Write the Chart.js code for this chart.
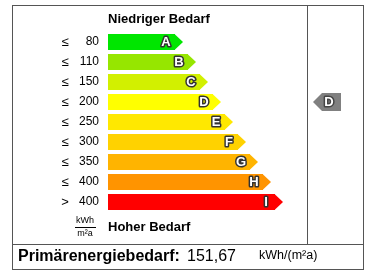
<!DOCTYPE html>
<html>
<head>
<meta charset="utf-8">
<script src="https://cdn.jsdelivr.net/npm/chart.js@4"></script>
<style>
  html, body { margin: 0; padding: 0; background: #fff; }
  #wrap { width: 380px; height: 280px; }
</style>
</head>
<body>
<div id="wrap"><canvas id="label" width="380" height="280"></canvas></div>
<script>
const classes = ['A', 'B', 'C', 'D', 'E', 'F', 'G', 'H', 'I'];
const relations = ['≤', '≤', '≤', '≤', '≤', '≤', '≤', '≤', '>'];
const limits = [80, 110, 150, 200, 250, 300, 350, 400, 400];
const barLengths = [67, 80, 92, 105, 117, 130, 142, 155, 167];
const barColors = ['#00e600', '#96e600', '#d2f000', '#ffff00', '#ffe800', '#ffd200', '#ffb400', '#ff9400', '#ff0000'];
const currentClass = 'D';
const demandValue = '151,67';

const FONT = '"Liberation Sans", Arial, sans-serif';

function outlinedText(ctx, txt, x, y, stroke) {
    ctx.save();
    ctx.font = 'bold 13px ' + FONT;
    ctx.textAlign = 'center';
    ctx.textBaseline = 'middle';
    ctx.lineJoin = 'round';
    ctx.lineWidth = 3;
    ctx.strokeStyle = stroke;
    ctx.strokeText(txt, x, y);
    ctx.fillStyle = '#fff';
    ctx.fillText(txt, x, y);
    ctx.restore();
}

const labelPlugin = {
    id: 'energyLabel',
    beforeDraw(chart) {
        const ctx = chart.ctx;
        ctx.save();
        ctx.fillStyle = '#fff';
        ctx.fillRect(0, 0, chart.width, chart.height);
        ctx.restore();
    },
    afterDatasetsDraw(chart) {
        const ctx = chart.ctx;
        const meta = chart.getDatasetMeta(0);
        const yScale = chart.scales.y;
        const area = chart.chartArea;

        // arrow heads + class letters
        meta.data.forEach((bar, i) => {
            const h = bar.height;
            ctx.save();
            ctx.fillStyle = barColors[i];
            ctx.beginPath();
            ctx.moveTo(bar.x - 0.5, bar.y - h / 2);
            ctx.lineTo(bar.x + 8, bar.y);
            ctx.lineTo(bar.x - 0.5, bar.y + h / 2);
            ctx.closePath();
            ctx.fill();
            ctx.restore();
            outlinedText(ctx, classes[i], bar.x - 9, bar.y + 0.5, '#333');
        });

        // relation signs in front of the tick labels
        ctx.save();
        ctx.font = '13px ' + FONT;
        ctx.fillStyle = '#000';
        ctx.textAlign = 'center';
        ctx.textBaseline = 'middle';
        relations.forEach((r, i) => {
            ctx.fillText(r, 65, yScale.getPixelForTick(i));
        });

        // headings
        ctx.font = 'bold 13px ' + FONT;
        ctx.textAlign = 'left';
        ctx.fillText('Niedriger Bedarf', area.left, area.top - 13);
        ctx.fillText('Hoher Bedarf', area.left, area.bottom + 15);

        // unit fraction
        ctx.font = '9px ' + FONT;
        ctx.textAlign = 'center';
        ctx.fillText('kWh', 85, area.bottom + 9);
        ctx.fillText('m²a', 85, area.bottom + 22);
        ctx.fillRect(75, area.bottom + 15, 21, 1);

        // frame
        ctx.strokeStyle = '#555';
        ctx.lineWidth = 1;
        ctx.strokeRect(12.5, 5.5, 351, 264);
        ctx.beginPath();
        ctx.moveTo(12, 244.5);
        ctx.lineTo(364, 244.5);
        ctx.moveTo(307.5, 5);
        ctx.lineTo(307.5, 244);
        ctx.stroke();

        // current class pointer
        const py = yScale.getPixelForValue(classes.indexOf(currentClass));
        ctx.fillStyle = '#808080';
        ctx.beginPath();
        ctx.moveTo(313, py);
        ctx.lineTo(322, py - 9);
        ctx.lineTo(341, py - 9);
        ctx.lineTo(341, py + 9);
        ctx.lineTo(322, py + 9);
        ctx.closePath();
        ctx.fill();
        outlinedText(ctx, currentClass, 329, py + 0.5, '#444');

        // footer
        ctx.fillStyle = '#000';
        ctx.textAlign = 'left';
        ctx.textBaseline = 'middle';
        ctx.font = 'bold 16px ' + FONT;
        ctx.fillText('Primärenergiebedarf:', 18, 257);
        ctx.font = '16px ' + FONT;
        ctx.fillText(demandValue, 187, 257);
        ctx.font = '12.5px ' + FONT;
        ctx.fillText('kWh/(m²a)', 259, 256);
        ctx.restore();
    }
};

new Chart(document.getElementById('label'), {
    type: 'bar',
    data: {
        labels: classes,
        datasets: [{
            data: barLengths,
            backgroundColor: barColors,
            borderWidth: 0,
            barPercentage: 0.8,
            categoryPercentage: 1
        }]
    },
    options: {
        indexAxis: 'y',
        responsive: false,
        animation: false,
        devicePixelRatio: 1,
        layout: { padding: { top: 32, bottom: 68, right: 72, left: 0 } },
        plugins: {
            legend: { display: false },
            tooltip: { enabled: false }
        },
        scales: {
            x: { display: false, min: 0, max: 200 },
            y: {
                grid: { display: false, drawTicks: false },
                border: { display: false },
                afterFit(scale) { scale.width = 108; },
                ticks: {
                    padding: 9,
                    color: '#000',
                    font: { family: FONT, size: 12 },
                    callback: (v, i) => String(limits[i])
                }
            }
        }
    },
    plugins: [labelPlugin]
});
</script>
</body>
</html>
